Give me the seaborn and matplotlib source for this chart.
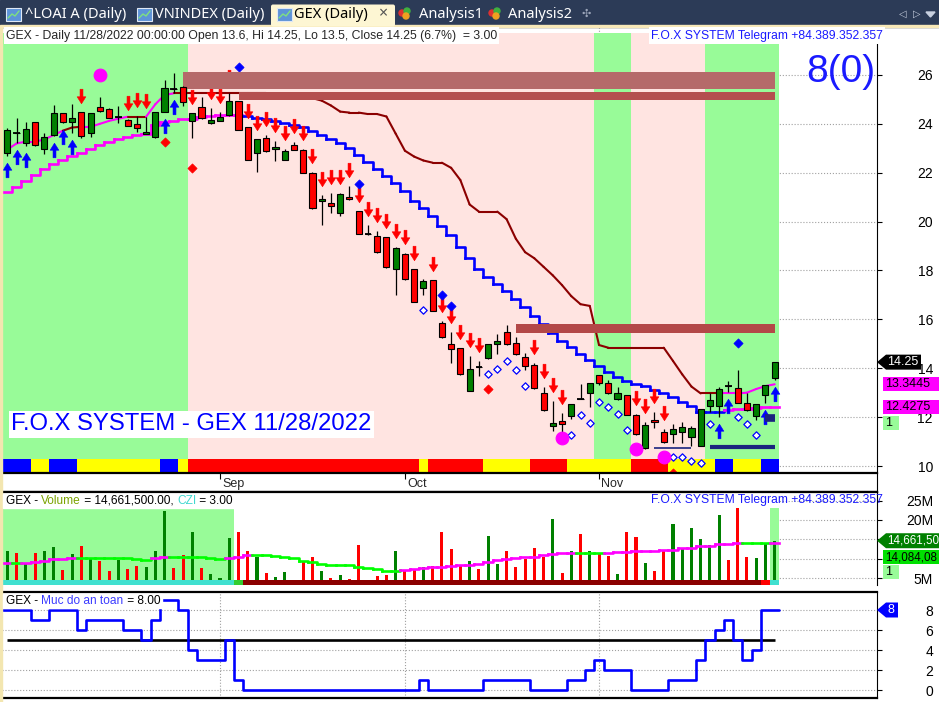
import itertools
import numpy as np
import pandas as pd
import seaborn as sns
import matplotlib
matplotlib.use('Agg')
import matplotlib.pyplot as plt
import matplotlib.transforms as mtransforms
from matplotlib.collections import LineCollection
from matplotlib.patches import Polygon, Rectangle, FancyBboxPatch, Circle

sns.set_style('white')
plt.rcParams['font.family'] = ['Liberation Sans', 'DejaVu Sans']

# ------------------------------------------------------------------
# values: bar 0 = 1 Aug 2022 ... bar 83 = 28 Nov 2022
# ------------------------------------------------------------------
month_names = ['Sep', 'Oct', 'Nov']
month_bars = [23, 43, 64]

opens = [22.82, 23.64, 23.20, 24.06, 22.96, 23.53, 24.43, 24.09, 24.47, 23.61,
         24.68, 24.60, 24.29, 24.16, 23.99, 23.58, 23.45, 24.50, 25.42, 25.51,
         24.13, 24.68, 24.02, 24.11, 24.35, 24.92, 23.86, 22.82, 23.41, 22.96,
         22.52, 23.12, 22.93, 22.00, 20.83, 20.75, 20.34, 21.00, 20.42, 19.48,
         19.40, 19.36, 18.05, 18.66, 18.05, 17.30, 17.60, 15.84, 14.98, 14.81,
         13.07, 14.06, 14.41, 14.98, 15.47, 15.02, 14.45, 14.13, 12.97, 11.65,
         11.83, 12.06, 12.75, 12.97, 13.71, 13.41, 12.74, 12.90, 12.09, 10.72,
         11.88, 11.38, 11.31, 11.38, 11.18, 10.83, 12.45, 12.47, 13.27, 13.18,
         12.56, 12.06, 12.89, 13.60]
highs = [23.85, 24.23, 24.09, 24.08, 23.61, 24.77, 24.45, 24.81, 24.50, 24.45,
         25.08, 24.65, 24.73, 24.20, 24.32, 24.27, 24.50, 25.79, 26.07, 25.55,
         24.45, 25.08, 24.64, 24.50, 25.25, 24.95, 23.88, 23.40, 23.54, 23.30,
         22.99, 23.27, 22.95, 22.02, 21.09, 21.18, 21.15, 21.46, 20.44, 19.86,
         19.62, 19.38, 18.96, 18.70, 18.07, 17.64, 17.62, 15.93, 15.50, 14.83,
         14.50, 14.31, 15.00, 15.39, 15.77, 15.29, 14.61, 14.20, 13.22, 12.67,
         12.16, 12.54, 13.35, 13.40, 13.73, 13.52, 13.22, 12.92, 12.11, 11.80,
         12.22, 11.50, 11.72, 11.82, 11.64, 12.35, 12.97, 13.22, 13.49, 13.93,
         13.00, 12.54, 13.32, 14.25]
lows = [22.70, 23.20, 23.09, 23.10, 22.77, 23.50, 24.05, 23.64, 23.43, 23.47,
        24.50, 24.22, 24.05, 23.90, 23.68, 23.57, 23.44, 24.48, 25.25, 24.73,
        23.43, 24.20, 24.00, 24.10, 24.33, 23.73, 22.50, 22.04, 22.85, 22.49,
        22.50, 22.91, 21.98, 20.53, 19.86, 20.36, 20.24, 20.89, 19.48, 19.46,
        18.72, 18.11, 16.98, 17.62, 16.70, 17.00, 16.34, 15.25, 14.23, 13.74,
        13.05, 13.68, 14.39, 14.58, 14.96, 14.55, 13.93, 13.16, 12.27, 11.44,
        11.20, 11.91, 12.73, 12.40, 13.30, 12.95, 12.72, 12.07, 11.28, 10.70,
        11.54, 10.95, 10.95, 10.95, 10.83, 10.80, 12.22, 12.02, 13.04, 12.57,
        12.27, 11.88, 12.59, 13.50]
closes = [23.75, 23.64, 23.79, 23.12, 23.45, 24.43, 24.09, 24.23, 23.52, 24.43,
          24.54, 24.25, 24.29, 23.91, 23.82, 23.67, 24.47, 25.45, 25.42, 24.91,
          24.43, 24.23, 24.16, 24.27, 24.92, 23.75, 22.52, 23.37, 22.87, 23.04,
          22.87, 22.93, 22.00, 20.55, 20.91, 20.65, 21.12, 20.91, 19.50, 19.48,
          18.74, 18.13, 18.93, 17.64, 16.72, 17.57, 16.36, 15.27, 14.77, 13.76,
          13.96, 14.06, 14.98, 15.10, 14.98, 14.57, 14.10, 13.18, 12.29, 11.75,
          11.73, 12.52, 12.75, 13.38, 13.38, 12.97, 12.97, 12.09, 11.30, 11.68,
          11.79, 10.97, 11.51, 11.61, 11.55, 12.32, 12.70, 13.14, 13.27, 12.59,
          12.29, 12.52, 13.30, 14.25]

# trailing stop lines
stop_low = [21.22, 21.43, 21.67, 21.90, 22.14, 22.36, 22.52, 22.68, 22.79, 22.96,
            23.13, 23.27, 23.39, 23.47, 23.53, 23.58, 23.95, 24.09, 24.13, 24.18,
            24.21, 24.29, 24.32, 24.35, 24.38, 24.38, 24.32, 24.25, 24.18, 24.10,
            24.02, 23.95, 23.88, 23.72, 23.54, 23.38, 23.23, 23.02, 22.73, 22.45,
            22.15, 21.88, 21.57, 21.27, 20.86, 20.57, 20.24, 19.83, 19.45, 18.97,
            18.52, 18.06, 17.75, 17.45, 17.17, 16.85, 16.52, 16.14, 15.80, 15.43,
            15.10, 14.85, 14.60, 14.35, 14.10, 13.86, 13.65, 13.49, 13.34, 13.27,
            13.11, 13.00, 12.81, 12.63, 12.45, 12.22, 12.22, 12.22, 12.30, 12.32,
            12.35, 12.38, 12.40, 12.4275]
stop_high = [22.95, 23.20, 23.27, 23.27, 23.36, 23.54, 23.72, 23.85, 23.88, 23.88,
             24.00, 24.12, 24.21, 24.29, 24.29, 24.29, 24.80, 25.18, 25.25, 25.25,
             25.25, 25.25, 25.25, 25.25, 25.25, 25.25, 25.25, 25.25, 25.25, 25.22,
             25.20, 25.15, 25.10, 25.05, 24.95, 24.75, 24.50, 24.46, 24.46, 24.40,
             24.40, 24.30, 23.60, 22.90, 22.66, 22.50, 22.41, 22.41, 22.20, 21.70,
             20.70, 20.41, 20.41, 20.41, 20.10, 19.30, 18.75, 18.50, 18.15, 17.80,
             17.40, 16.95, 16.62, 16.55, 14.95, 14.84, 14.84, 14.84, 14.84, 14.84,
             14.84, 14.84, 14.30, 13.75, 13.25, 12.97, 12.97, 12.97, 12.97, 12.97,
             13.00, 13.15, 13.27, 13.3445]
stop_low_runs = [('M', 26), ('B', 52), ('M', 6)]
stop_high_runs = [('M', 7), ('D', 2), ('M', 5), ('D', 2), ('M', 3), ('D', 59), ('M', 6)]

# background regime and the signal strip at the foot of the price pane
regime_runs = [('G', 20), ('P', 44), ('G', 4), ('P', 8), ('G', 8)]
signal_runs = [('B', 3), ('Y', 2), ('B', 3), ('Y', 9), ('B', 2), ('Y', 1), ('R', 25),
               ('Y', 1), ('R', 6), ('Y', 5), ('R', 4), ('Y', 7), ('R', 4), ('Y', 5),
               ('B', 2), ('Y', 3), ('B', 2)]

# resistance zones (start bar, low, high)
zone_start = [19, 25, 55]
zone_low = [25.43, 24.98, 15.43]
zone_high = [26.12, 25.30, 15.80]

# support marks (start bar, end bar, level)
support_start = [70, 76, 82]
support_end = [74, 83, 83]
support_level = [10.72, 10.78, 11.95]

# signal markers
sell_bars = [8, 13, 14, 15, 20, 22, 23, 24, 26, 27, 28, 29, 30, 31, 32, 33, 34, 35,
             36, 37, 38, 39, 40, 41, 42, 43, 44, 46, 47, 48, 49, 50, 51, 57, 58, 59,
             60, 68, 69, 70, 71]
buy_bars = [0, 1, 2, 5, 6, 7, 17, 18, 77, 78, 82, 83]
hollow_bars = [45, 52, 53, 54, 55, 56, 61, 62, 63, 64, 65, 66, 67, 72, 73, 74, 75,
               76, 79, 80, 81]
hollow_price = [16.38, 13.76, 13.97, 14.30, 13.93, 13.27, 11.27, 12.09, 11.75, 12.63,
                12.40, 12.13, 11.47, 10.35, 10.35, 10.20, 10.14, 11.71, 12.02, 11.71,
                11.27]
blue_dot_bars = [25, 38, 47, 48, 79]
blue_dot_price = [26.31, 21.54, 17.00, 16.55, 15.02]
red_dot_bars = [17, 20, 52, 72]
red_dot_price = [23.27, 22.21, 13.15, 9.73]
circle_bars = [10, 60, 68, 71]
circle_price = [26.00, 11.13, 10.68, 10.38]

# volume pane (millions)
volume_m = [12.0, 11.6, 8.9, 11.6, 11.9, 13.1, 7.1, 11.3, 13.3, 10.0,
            9.5, 6.9, 9.6, 7.4, 8.2, 7.9, 12.0, 22.3, 7.6, 11.0,
            17.0, 7.6, 6.1, 5.0, 15.3, 17.0, 12.0, 10.4, 6.4, 5.3,
            6.7, 3.6, 9.5, 10.4, 7.0, 5.1, 5.85, 4.7, 13.6, 4.6,
            5.6, 5.85, 11.9, 7.0, 7.1, 7.8, 8.2, 16.9, 12.55, 8.2,
            9.5, 7.4, 15.9, 8.7, 12.0, 7.8, 9.9, 12.7, 10.6, 20.2,
            6.3, 12.1, 16.4, 12.1, 11.4, 10.75, 6.1, 16.85, 15.6, 8.9,
            7.0, 11.9, 19.0, 12.7, 17.9, 15.05, 13.6, 21.3, 9.7, 23.0,
            10.4, 10.15, 14.0, 14.6615]
volume_dir = ("GRGRGGRGRG" "RRGRRGGGRR" "GRGGGRRGRG" "GRRRGRGRRR" "RRGRRGRRRR"
              "GRGGRRRRRG" "RGRGRRGRRG" "RRGGGGGGRR" "RGGG")
volume_ma = [8.9, 8.9, 9.0, 9.2, 9.5, 9.9, 10.0, 10.1, 10.1, 10.1,
             10.1, 10.1, 10.1, 10.1, 10.0, 9.8, 10.2, 10.6, 10.5, 10.4,
             10.4, 10.4, 10.3, 9.9, 10.1, 10.4, 11.0, 11.0, 11.0, 10.8,
             10.6, 10.1, 9.5, 9.1, 8.7, 8.4, 8.4, 8.4, 8.0, 7.6,
             7.3, 7.0, 7.0, 7.1, 7.4, 7.6, 7.9, 8.0, 8.2, 8.3,
             8.4, 8.6, 9.2, 9.6, 9.9, 10.1, 10.4, 10.6, 10.9, 11.2,
             11.4, 11.5, 11.5, 11.5, 11.5, 11.6, 11.7, 11.8, 11.9, 12.0,
             12.1, 12.2, 12.4, 12.7, 12.9, 13.2, 13.4, 13.7, 13.9, 14.08,
             14.08, 14.08, 14.08, 14.08408]
vol_bg_runs = [('G', 25), ('W', 58), ('G', 1)]
czi_runs = [('C', 25), ('L', 1), ('D', 56), ('R', 1), ('C', 1)]

# safety level pane
safety = [8, 8, 8, 7, 7, 8, 8, 8, 6, 7, 7, 7, 7, 6, 6, 5, 7, 9, 9, 8,
          4, 3, 3, 3, 5, 1, 0, 0, 0, 0, 0, 0, 0, 0, 0, 0, 0, 0, 0, 0,
          0, 0, 0, 0, 0, 1, 0, 0, 0, 0, 0, 0, 1, 1, 1, 1, 1, 0, 0, 0,
          0, 1, 1, 2, 3, 2, 2, 2, 0, 0, 0, 0, 1, 1, 1, 3, 5, 6, 7, 5,
          3, 4, 8, 8]
safety_level = 5

price_ticks = [10, 12, 14, 16, 18, 20, 22, 24, 26]
volume_ticks = [5, 10, 15, 20, 25]
volume_labels = ['5M', '', '', '20M', '25M']   # 10M / 15M sit under the value tags
safety_ticks = [0, 2, 4, 6, 8]


def expand(runs):
    out = []
    for code, count in runs:
        out.extend([code] * count)
    return out


regime = expand(regime_runs)
signal_strip = expand(signal_runs)
stop_low_col = expand(stop_low_runs)
stop_high_col = expand(stop_high_runs)
vol_bg = expand(vol_bg_runs)
czi_strip = expand(czi_runs)

n = len(closes)
for series in (opens, highs, lows, stop_low, stop_high, volume_m, volume_dir,
               volume_ma, safety, regime, signal_strip, stop_low_col,
               stop_high_col, vol_bg, czi_strip):
    assert len(series) == n, len(series)
x = np.arange(n)

GREEN_BG = '#98fb98'
PINK_BG = '#ffe4e1'
BG = {'G': GREEN_BG, 'P': PINK_BG}
SIG = {'B': '#0000ff', 'Y': '#ffff00', 'R': '#ff0000'}
LINE = {'M': '#ff00ff', 'B': '#0000ff', 'D': '#8b0000'}
CZI = {'C': '#40e0d0', 'L': '#32cd32', 'D': '#8b0000', 'R': '#ff0000'}
ZONE_COL = ['#b56a6a', '#b44f4f', '#b34848']
SUPPORT_LW = [1.2, 3.0, 5.5]
GRID = dict(ls=':', color='#a0a0a0', lw=0.8)


def runs_of(codes):
    start = 0
    for code, grp in itertools.groupby(codes):
        k = len(list(grp))
        yield code, start, start + k - 1
        start += k


def step_segments(vals):
    segs = []
    for i, v in enumerate(vals):
        pts = [(i - 0.5, v), (i + 0.5, v)]
        if i + 1 < len(vals):
            pts.append((i + 0.5, vals[i + 1]))
        segs.append(pts)
    return segs


def step_path(vals):
    xs, ys = [], []
    for i, v in enumerate(vals):
        xs += [i - 0.5, i + 0.5]
        ys += [v, v]
    return xs, ys


W, H = 939, 702
fig = plt.figure(figsize=(W / 100, H / 100), dpi=100)
fig.patch.set_facecolor('white')


def add_ax(x0, y0, x1, y1):
    return fig.add_axes([x0 / W, 1 - y1 / H, (x1 - x0) / W, (y1 - y0) / H])


XLO, XHI = -0.584, 94.07


def right_axis(a, ticks, labels):
    a.yaxis.tick_right()
    a.set_yticks(ticks)
    a.set_yticklabels(labels)
    a.tick_params(axis='y', direction='out', length=3.6, width=0.8, color='black',
                  pad=36.7, labelsize=10, labelcolor='black')
    for t in a.get_yticklabels():
        t.set_horizontalalignment('right')
    a.set_xticks(month_bars)
    a.tick_params(axis='x', length=0, labelbottom=False)
    for s in ('left', 'top', 'bottom'):
        a.spines[s].set_visible(False)
    a.spines['right'].set_color('black')
    a.spines['right'].set_linewidth(0.8)
    a.set_axisbelow(True)
    a.grid(True, **GRID)


ARROW_DOWN = [(-0.1, 0.5), (0.1, 0.5), (0.1, -0.02), (0.3, -0.02), (0.0, -0.5),
              (-0.3, -0.02), (-0.1, -0.02), (-0.1, 0.5)]
ARROW_UP = [(px, -py) for px, py in ARROW_DOWN]

# ------------------------------ price pane ------------------------------
ax = add_ax(2, 27, 877, 473)
ax.set_xlim(XLO, XHI)
ax.set_ylim(9.714, 27.962)
right_axis(ax, price_ticks, [str(t) for t in price_ticks])

for code, a, b in runs_of(regime):
    ax.axvspan(a - 0.5, b + 0.5, ymin=0, ymax=0.9866, color=BG[code], lw=0, zorder=1)
for code, a, b in runs_of(signal_strip):
    ax.axvspan(a - 0.5, b + 0.5, ymin=0, ymax=0.0314, color=SIG[code], lw=0, zorder=1.5)

ax.add_collection(LineCollection(step_segments(stop_low),
                                 colors=[LINE[k] for k in stop_low_col],
                                 linewidths=1.9, capstyle='projecting', zorder=3))
segs_hi = [[(i - 1, stop_high[i - 1]), (i, stop_high[i])] for i in range(1, n)]
ax.add_collection(LineCollection(segs_hi, colors=[LINE[k] for k in stop_high_col[1:]],
                                 linewidths=1.5, capstyle='round', zorder=3))

dn_off = mtransforms.offset_copy(ax.transData, fig=fig, x=0, y=16, units='dots')
up_off = mtransforms.offset_copy(ax.transData, fig=fig, x=0, y=-14, units='dots')
ax.plot(sell_bars, [highs[i] for i in sell_bars], ls='none', marker=ARROW_DOWN,
        ms=10.5, color='#ff0000', mew=0.4, transform=dn_off, zorder=3.2)
ax.plot(buy_bars, [lows[i] for i in buy_bars], ls='none', marker=ARROW_UP,
        ms=10.5, color='#0000ff', mew=0.4, transform=up_off, zorder=3.2)

sns.scatterplot(x=hollow_bars, y=hollow_price, marker='D', s=14, color='white',
                edgecolor='#0000ff', linewidth=0.9, zorder=3.3, ax=ax, legend=False)
sns.scatterplot(x=blue_dot_bars, y=blue_dot_price, marker='D', s=22, color='#0000ff',
                edgecolor='#0000ff', linewidth=0.5, zorder=3.3, ax=ax, legend=False)
sns.scatterplot(x=red_dot_bars, y=red_dot_price, marker='D', s=22, color='#ff0000',
                edgecolor='#ff0000', linewidth=0.5, zorder=3.3, ax=ax, legend=False)

for s, lo, hi, col in zip(zone_start, zone_low, zone_high, ZONE_COL):
    ax.fill_between([s, n - 1], lo, hi, color=col, lw=0, zorder=3.6)

o, h, l, c = (np.array(v) for v in (opens, highs, lows, closes))
body_col = ['#008000' if cc > oo else ('#ff0000' if cc < oo else 'black')
            for oo, cc in zip(o, c)]
ax.vlines(x, l, h, colors='black', lw=0.9, zorder=5)
ax.bar(x, np.abs(c - o), bottom=np.minimum(o, c), width=0.66, color=body_col,
       edgecolor='black', linewidth=0.8, zorder=5.5)
flat = c == o
ax.hlines(c[flat], x[flat] - 0.36, x[flat] + 0.36, colors='black', lw=1.3, zorder=5.6)

for s, e, lev, lw in zip(support_start, support_end, support_level, SUPPORT_LW):
    ax.hlines(lev, s, e, colors='#1a237e', lw=lw, zorder=6)

sns.scatterplot(x=circle_bars, y=circle_price, s=85, color='#ff00ff',
                edgecolor='#ff00ff', zorder=6.5, ax=ax, legend=False)
ax.set_xlim(XLO, XHI)
ax.set_ylim(9.714, 27.962)

# ------------------------------ date strip ------------------------------
adt = add_ax(2, 473, 877, 492)
adt.set_xlim(XLO, XHI)
adt.set_ylim(0, 1)
adt.set_facecolor('white')
adt.set_xticks(month_bars)
adt.set_xticklabels([])
adt.xaxis.set_ticks_position('top')
adt.tick_params(axis='x', direction='in', length=4.3, width=0.8, color='black',
                labeltop=False, labelbottom=False)
adt.set_yticks([])
adt.spines['left'].set_visible(False)
adt.spines['top'].set_linewidth(1.6)
adt.spines['bottom'].set_linewidth(1.6)
adt.spines['right'].set_linewidth(0.8)
for sp in adt.spines.values():
    sp.set_color('black')
for b, name in zip(month_bars, month_names):
    adt.text(b + 0.25, 0.42, name, fontsize=9, ha='left', va='center')

# ------------------------------ volume pane ------------------------------
VLO, VHI = 3.27, 27.2
av = add_ax(2, 492, 877, 585)
av.set_xlim(XLO, XHI)
av.set_ylim(VLO, VHI)
right_axis(av, volume_ticks, volume_labels)
av.spines['top'].set_visible(True)
av.spines['top'].set_linewidth(1.6)
av.spines['top'].set_color('black')
av.axvspan(-0.5, n - 0.5, color='white', lw=0, zorder=0.8)
for code, a, b in runs_of(vol_bg):
    if code == 'G':
        av.axvspan(a - 0.5, b + 0.5, ymin=0, ymax=(23.1 - VLO) / (VHI - VLO),
                   color=GREEN_BG, lw=0, zorder=1)
vcol = ['#008000' if d == 'G' else '#ff0000' for d in volume_dir]
av.bar(x, np.array(volume_m) - VLO, bottom=VLO, width=0.33, color=vcol, lw=0, zorder=2)
for code, a, b in runs_of(czi_strip):
    av.axvspan(a - 0.5, b + 0.5, ymin=0, ymax=(4.56 - VLO) / (VHI - VLO),
               color=CZI[code], lw=0, zorder=3)
ma_cols = ['#ff00ff' if (i == 0 or volume_ma[i] > volume_ma[i - 1]) else '#00ff00'
           for i in range(n)]
av.add_collection(LineCollection(step_segments(volume_ma), colors=ma_cols,
                                 linewidths=1.9, capstyle='projecting', zorder=4))

# ------------------------------ safety pane ------------------------------
asf = add_ax(2, 592, 877, 698)
asf.set_xlim(XLO, XHI)
asf.set_ylim(-0.8, 9.8)
right_axis(asf, safety_ticks, [str(t) for t in safety_ticks])
for s in ('top', 'bottom'):
    asf.spines[s].set_visible(True)
    asf.spines[s].set_linewidth(1.6)
    asf.spines[s].set_color('black')
asf.hlines(safety_level, 0, n - 1, colors='black', lw=1.9, zorder=2)
sx, sy = step_path(safety)
sns.lineplot(x=sx, y=sy, sort=False, estimator=None, color='#0000ff', lw=1.9,
             ax=asf, zorder=3)
asf.set_xlim(XLO, XHI)
asf.set_ylim(-0.8, 9.8)
asf.set_xlabel('')
asf.set_ylabel('')

# ------------------------------ overlay (pixel coords) ------------------------------
ov = fig.add_axes([0, 0, 1, 1], zorder=10)
ov.set_xlim(0, W)
ov.set_ylim(H, 0)
ov.axis('off')
ov.patch.set_alpha(0)


def px_of(a, val):
    return H - a.transData.transform((0, val))[1]


# tab bar
TABF = ['Noto Sans', 'DejaVu Sans']
ov.add_patch(Rectangle((0, 0), W, 27, color='#2c3b57', zorder=1))
ov.add_patch(Rectangle((0, 25.2), W, 2.2, color='#f7e8b8', zorder=2))
ov.add_patch(FancyBboxPatch((271, 4.5), 124, 22, boxstyle='round,pad=0,rounding_size=2',
                            fc='#fdf6d3', ec='none', zorder=2))
for ix in (6, 137, 277):
    ov.add_patch(Rectangle((ix, 8), 15, 13, fc='#5d93d8', ec='#dfe8f5', lw=0.8, zorder=3))
    ov.plot([ix + 2, ix + 6, ix + 9, ix + 13], [18, 14, 16, 11], color='#7fe07f',
            lw=1.0, zorder=4)
for ix in (402, 492):
    for dx, dy, col in ((0, 2, '#e03030'), (5, 0, '#40b040'), (4, 5, '#f0a020')):
        ov.add_patch(Circle((ix + dx, 11 + dy), 3.0, color=col, zorder=3))
ov.text(25, 14.5, '^LOAI A (Daily)', color='white', fontsize=10.5, family=TABF,
        va='center', zorder=5)
ov.text(155, 14.5, 'VNINDEX (Daily)', color='white', fontsize=10.5, family=TABF,
        va='center', zorder=5)
ov.text(294, 14.5, 'GEX (Daily)', color='black', fontsize=10.5, family=TABF,
        fontweight='bold', va='center', zorder=5)
ov.text(379, 14.5, '\u00d7', color='#555555', fontsize=11.5, family=TABF,
        va='center', zorder=5)
ov.text(419, 14.5, 'Analysis1', color='white', fontsize=10.5, family=TABF,
        va='center', zorder=5)
ov.text(508, 14.5, 'Analysis2', color='white', fontsize=10.5, family=TABF,
        va='center', zorder=5)
ov.text(582, 13.5, '\u2723', color='#9aa4b8', fontsize=8, family=['DejaVu Sans'],
        va='center', zorder=5)
ov.text(899, 13.5, '\u25c1', color='#c8d0e0', fontsize=7, family=['DejaVu Sans'],
        va='center', zorder=5)
ov.text(913, 13.5, '\u25b7', color='#c8d0e0', fontsize=7, family=['DejaVu Sans'],
        va='center', zorder=5)
ov.add_patch(Polygon([(926, 12), (935, 12), (930.5, 17)], color='#c8d0e0', zorder=5))

# left frame edge
ov.add_patch(Rectangle((0, 27), 1.6, H - 27, color='#f3e6b0', zorder=1))

# pane titles
ov.text(6, 35.5, 'GEX - Daily 11/28/2022 00:00:00 Open 13.6, Hi 14.25, Lo 13.5, '
        'Close 14.25 (6.7%)  = 3.00', fontsize=8.8, va='center', ha='left',
        bbox=dict(fc='white', ec='none', pad=1.6), zorder=5)
ov.text(651, 35.5, 'F.O.X SYSTEM Telegram +84.389.352.357', color='#1a1aff',
        fontsize=8.7, va='center', ha='left', bbox=dict(fc='white', ec='none', pad=1.6),
        zorder=5)
ov.text(651, 500.5, 'F.O.X SYSTEM Telegram +84.389.352.357', color='#1a1aff',
        fontsize=8.7, va='center', ha='left', zorder=5)

renderer = fig.canvas.get_renderer()


def colored_text(x0, y, pieces, size):
    xc = x0
    for s, col in pieces:
        t = ov.text(xc, y, s, color=col, fontsize=size, va='center', ha='left', zorder=6)
        xc += t.get_window_extent(renderer=renderer).width
    ov.add_patch(Rectangle((x0 - 3, y - 7), xc - x0 + 5, 14, color='white', zorder=5))


colored_text(6, 500.5, [('GEX - ', 'black'), ('Volume', '#7ba300'),
                        (' = 14,661,500.00, ', 'black'), ('CZI', '#40d8d0'),
                        (' = 3.00', 'black')], 8.6)
colored_text(6, 600.5, [('GEX - ', 'black'), ('Muc do an toan', '#3c3cff'),
                        (' = 8.00', 'black')], 8.6)

ov.text(875, 72, '8(0)', fontsize=28, color='#1a1aff', ha='right', va='center', zorder=5)
ov.text(11, 424.5, 'F.O.X SYSTEM - GEX 11/28/2022', fontsize=17.2, color='#0000ff',
        ha='left', va='center', bbox=dict(fc='white', ec='none', pad=1.6), zorder=5)


def arrow_tag(yc, text, fc, tc, right, size=9):
    ov.add_patch(Polygon([(877, yc), (886, yc - 7.5), (right, yc - 7.5),
                          (right, yc + 7.5), (886, yc + 7.5)], closed=True,
                         fc=fc, ec='none', zorder=7))
    ov.text(887, yc, text, color=tc, fontsize=size, va='center', ha='left', zorder=8)


def box_tag(yc, text, fc, tc, right, size=9):
    ov.add_patch(Rectangle((883, yc - 7), right - 883, 14, fc=fc, ec='none', zorder=7))
    ov.text(885, yc, text, color=tc, fontsize=size, va='center', ha='left', zorder=8)


y_close = px_of(ax, closes[-1])
y_hi = px_of(ax, stop_high[-1])
y_lo = px_of(ax, stop_low[-1])
arrow_tag(y_close, f'{closes[-1]:.2f}', 'black', 'white', 921)
box_tag(y_hi, f'{stop_high[-1]:.4f}', '#ff00ff', 'black', 945)
box_tag(y_lo, f'{stop_low[-1]:.4f}', '#ff00ff', 'black', 945)
box_tag(y_lo + 16, '1', GREEN_BG, 'black', 899)

# the volume tags are cut by the window edge in the screenshot: show what is visible
y_vol = px_of(av, volume_m[-1])
arrow_tag(y_vol, f'{volume_m[-1] * 1e6:,.0f}'[:9], '#008000', 'white', 945, size=8.4)
box_tag(y_vol + 16.5, f'{volume_ma[-1] * 1e6:,.0f}'[:9], '#00e000', 'black', 945, size=8.4)
box_tag(y_vol + 31.5, '1', GREEN_BG, 'black', 899)

y_saf = px_of(asf, safety[-1])
arrow_tag(y_saf, f'{safety[-1]}', '#0000ff', 'white', 898)

fig.savefig('out.png', dpi=100)
